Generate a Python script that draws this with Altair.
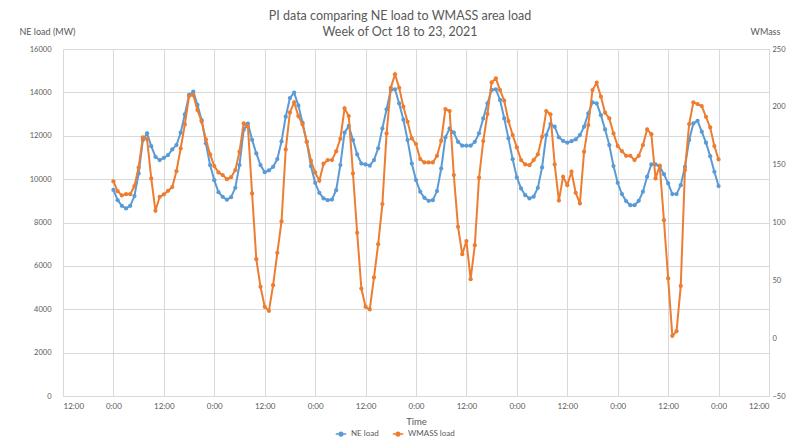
import altair as alt
import pandas as pd

TITLE_LINES = ["PI data comparing NE load to WMASS area load", "Week of Oct 18 to 23, 2021"]
SERIES = ["NE load", "WMASS load"]
COLORS = ["#5B9BD5", "#ED7D31"]
X_TICK_HOURS = list(range(-12, 157, 12))
LEFT_TICKS = list(range(0, 16001, 2000))
RIGHT_TICKS = list(range(-50, 251, 50))

# hourly values, 0:00 Oct 18 .. 0:00 Oct 24
ne_load = [
    9500, 9030, 8770, 8650, 8770, 9220, 10260, 11800, 12110, 11520, 11030, 10880,
    10980, 11110, 11370, 11570, 12140, 12990, 13880, 14030, 13420, 12720, 11650, 10650,
    9950, 9400, 9185, 9050, 9170, 9600, 10650, 12280, 12560, 11810, 11185, 10650,
    10320, 10400, 10570, 10925, 11740, 12880, 13740, 13990, 13400, 12600, 11720, 10600,
    9830, 9370, 9110, 9030, 9060, 9490, 10650, 12140, 12450, 11800, 11140, 10720,
    10680, 10620, 10880, 11420, 12340, 13220, 14110, 14140, 13490, 12740, 11800, 10720,
    9955, 9420, 9140, 9000, 9030, 9450, 10490, 11920, 12340, 12150, 11720, 11540,
    11540, 11540, 11720, 12110, 12800, 13490, 14110, 14140, 13650, 12800, 11880, 10920,
    10080, 9570, 9260, 9110, 9190, 9600, 10540, 12030, 12540, 12420, 11930, 11760,
    11680, 11750, 11830, 12030, 12420, 13030, 13540, 13490, 12950, 12290, 11570, 10600,
    9830, 9310, 8990, 8800, 8800, 9000, 9420, 10110, 10680, 10680, 10570, 10230,
    9800, 9310, 9310, 9720, 10570, 11800, 12570, 12690, 12190, 11680, 11060, 10340,
    9680,
]
wmass_load = [
    135.5, 127.1, 123.4, 124.5, 124.5, 131.5, 147.6, 173.6, 172.1, 138.1, 110.1, 122.2,
    124.3, 127.4, 130.6, 144.4, 164.0, 184.8, 209.3, 210.2, 197.2, 187.1, 171.8, 158.9,
    148.8, 143.3, 141.0, 137.5, 139.2, 145.3, 161.2, 185.7, 182.8, 125.1, 68.3, 44.4,
    27.1, 23.6, 45.8, 73.8, 100.9, 163.2, 195.2, 203.9, 192.0, 184.8, 169.8, 153.4,
    143.3, 136.1, 150.8, 154.0, 154.0, 161.5, 172.4, 198.7, 192.0, 142.4, 91.1, 42.9,
    27.1, 24.8, 52.5, 81.3, 115.9, 177.0, 216.5, 228.1, 216.5, 200.1, 187.1, 172.7,
    167.8, 154.8, 151.9, 151.9, 151.9, 157.7, 170.7, 198.1, 196.4, 141.0, 96.3, 72.6,
    83.9, 51.0, 80.4, 138.7, 170.4, 193.8, 221.1, 224.6, 214.5, 205.3, 187.7, 175.6,
    164.9, 154.0, 150.2, 149.6, 154.0, 158.9, 174.1, 196.4, 193.5, 150.2, 119.0, 139.5,
    132.3, 143.9, 125.7, 116.5, 161.2, 184.2, 214.5, 220.9, 208.8, 194.9, 190.0, 177.0,
    166.1, 161.7, 157.7, 157.7, 154.0, 157.7, 166.9, 180.5, 176.4, 138.1, 149.1, 102.0,
    51.6, 2.0, 6.0, 45.2, 145.3, 185.1, 203.9, 202.4, 200.7, 191.4, 182.2, 166.1,
    154.5,
]
hours = list(range(len(ne_load)))

df_ne = pd.DataFrame({"hour": hours, "value": ne_load, "series": SERIES[0]})
df_wm = pd.DataFrame({"hour": hours, "value": wmass_load, "series": SERIES[1]})

FONT = "Lato"
GRAY = "#595959"
GRID = "#d9d9d9"

color = alt.Color(
    "series:N",
    scale=alt.Scale(domain=SERIES, range=COLORS),
    legend=alt.Legend(
        title=None, orient="none", direction="horizontal",
        legendX=272, legendY=379,
        symbolType="M-1,0L1,0M0.35,0A0.35,0.35,0,1,1,-0.35,0A0.35,0.35,0,1,1,0.35,0",
        symbolSize=110, symbolStrokeWidth=1.5,
        labelFont=FONT, labelFontSize=8, labelColor=GRAY, columnPadding=10,
    ),
)

x = alt.X(
    "hour:Q",
    scale=alt.Scale(domain=[-12, 156], nice=False, zero=False),
    axis=alt.Axis(
        values=X_TICK_HOURS,
        labelExpr="datum.value % 24 == 0 ? '0:00' : '12:00'",
        title="Time", titleFont=FONT, titleFontSize=9.5, titleColor=GRAY,
        titleFontWeight="normal", titlePadding=6,
        grid=True, gridColor=GRID, domainColor=GRID, ticks=False,
        labelFont=FONT, labelFontSize=8, labelColor=GRAY, labelPadding=6,
    ),
)

point = alt.OverlayMarkDef(filled=True, size=18, opacity=1)

left = alt.Chart(df_ne).mark_line(point=point, strokeWidth=2).encode(
    x=x,
    y=alt.Y(
        "value:Q",
        scale=alt.Scale(domain=[0, 16000], nice=False),
        axis=alt.Axis(
            values=LEFT_TICKS, format="d", title="NE load (MW)",
            titleAngle=0, titleX=-44, titleY=-18, titleAlign="left",
            titleBaseline="middle", titleFont=FONT, titleFontSize=9,
            titleColor=GRAY, titleFontWeight="normal",
            grid=True, gridColor=GRID, domain=False, ticks=False,
            labelFont=FONT, labelFontSize=7.5, labelColor=GRAY, labelPadding=12,
        ),
    ),
    color=color,
)

right = alt.Chart(df_wm).mark_line(point=point, strokeWidth=2).encode(
    x=x,
    y=alt.Y(
        "value:Q",
        scale=alt.Scale(domain=[-50, 250], nice=False, zero=False),
        axis=alt.Axis(
            orient="right", values=RIGHT_TICKS, format="d", title="WMass",
            titleAngle=0, titleX=-4, titleY=-18, titleAlign="center",
            titleBaseline="middle", titleFont=FONT, titleFontSize=9,
            titleColor=GRAY, titleFontWeight="normal",
            grid=False, domain=False, ticks=False,
            labelFont=FONT, labelFontSize=7.5, labelColor=GRAY, labelPadding=3,
        ),
    ),
    color=color,
)

chart = (
    alt.layer(left, right)
    .resolve_scale(y="independent")
    .properties(
        width=706, height=347,
        title=alt.Title(
            TITLE_LINES, font=FONT, fontSize=12.5, fontWeight="normal",
            color=GRAY, anchor="middle", dx=-16, offset=-11, lineHeight=16,
        ),
        autosize=alt.AutoSizeParams(type="none"),
        padding={"left": 55, "top": 41, "right": 20, "bottom": 42},
    )
    .configure_view(stroke=None)
)

chart.save("out.html", embed_options={"renderer": "svg", "actions": False})
